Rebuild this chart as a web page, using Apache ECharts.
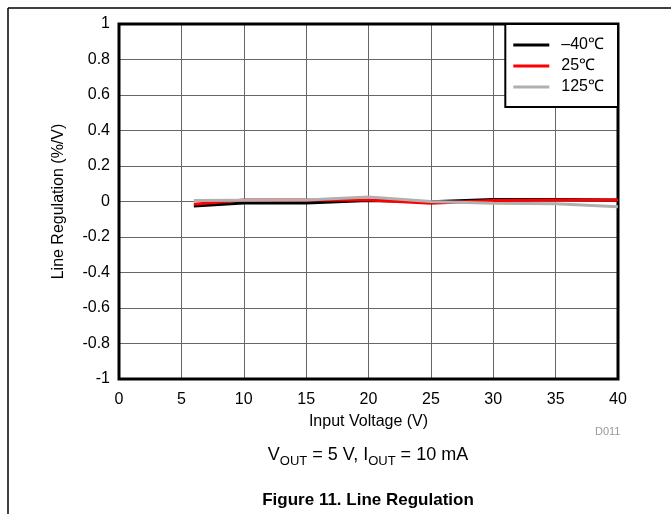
<!DOCTYPE html>
<html>
<head>
<meta charset="utf-8">
<script src="https://cdn.jsdelivr.net/npm/echarts@6/dist/echarts.min.js"></script>
<style>html,body{margin:0;padding:0;background:#fff;}#c{width:671px;height:514px;}</style>
</head>
<body>
<div id="c"></div>
<script>
var voltages = [6, 10, 15, 20, 25, 30, 35, 40];
var regM40 = [-0.025, -0.008, -0.008, 0.005, -0.002, 0.011, 0.011, 0.009];
var reg25 = [-0.015, 0.008, 0.008, 0.008, -0.010, 0.006, 0.008, 0.008];
var reg125 = [0.005, 0.007, 0.008, 0.025, 0.000, -0.010, -0.012, -0.030];
var seriesNames = ['\u201340\u2103', '25\u2103', '125\u2103'];
var seriesColors = ['#000000', '#ff0000', '#b0b0b0'];
var xTicks = [0, 5, 10, 15, 20, 25, 30, 35, 40];
var yTicks = [-1, -0.8, -0.6, -0.4, -0.2, 0, 0.2, 0.4, 0.6, 0.8, 1];

function pairs(ys) { return voltages.map(function (v, i) { return [v, ys[i]]; }); }
var allData = [regM40, reg25, reg125];

var chart = echarts.init(document.getElementById('c'), null, {renderer: 'canvas'});
var font = 'Arial, "Liberation Sans", sans-serif';
chart.setOption({
  animation: false,
  backgroundColor: '#ffffff',
  grid: {left: 119, right: 53, top: 24, bottom: 135, show: true, borderColor: '#000', borderWidth: 3, backgroundColor: 'transparent', z: 3},
  xAxis: {
    type: 'value', min: xTicks[0], max: xTicks[xTicks.length - 1], interval: 5,
    axisLine: {show: false}, axisTick: {show: false},
    axisLabel: {color: '#000', fontSize: 16, fontFamily: font, margin: 13},
    splitLine: {show: true, lineStyle: {color: '#666', width: 1}},
    name: 'Input Voltage (V)', nameLocation: 'middle', nameGap: 35,
    nameTextStyle: {color: '#000', fontSize: 16, fontFamily: font}
  },
  yAxis: {
    type: 'value', min: yTicks[0], max: yTicks[yTicks.length - 1], interval: 0.2,
    axisLine: {show: false}, axisTick: {show: false},
    axisLabel: {color: '#000', fontSize: 16, fontFamily: font, margin: 9,
      formatter: function (v) { return String(Math.round(v * 10) / 10); }},
    splitLine: {show: true, lineStyle: {color: '#666', width: 1}},
    name: 'Line Regulation (%/V)', nameLocation: 'middle', nameGap: 52,
    nameTextStyle: {color: '#000', fontSize: 16, fontFamily: font}
  },
  legend: {
    orient: 'vertical', right: 53, top: 24,
    backgroundColor: '#fff', borderColor: '#000', borderWidth: 2, borderRadius: 0,
    padding: [13, 14, 12, 8], itemGap: 5, itemWidth: 36, itemHeight: 3,
    icon: 'rect',
    textStyle: {color: '#000', fontSize: 16, fontFamily: font, padding: [0, 0, 0, 7]},
    data: seriesNames, z: 10
  },
  series: allData.map(function (d, i) {
    return {
      type: 'line', name: seriesNames[i], data: pairs(d), showSymbol: false, symbol: 'none',
      lineStyle: {color: seriesColors[i], width: 3}, itemStyle: {color: seriesColors[i]}, z: 2 + i
    };
  }),
  graphic: [
    {type: 'line', shape: {x1: 8, y1: 8, x2: 671, y2: 8}, style: {stroke: '#000', lineWidth: 1.5}},
    {type: 'line', shape: {x1: 8, y1: 8, x2: 8, y2: 514}, style: {stroke: '#000', lineWidth: 1.5}},
    {type: 'text', left: 595, top: 426, style: {text: 'D011', fill: '#999', font: '11px ' + font}},
    {type: 'text', x: 368, y: 455, style: {
      text: '{a|V}{s|OUT}{a| = 5 V, I}{s|OUT}{a| = 10 mA}', textAlign: 'center', textVerticalAlign: 'middle',
      rich: {
        a: {fontSize: 18, fontFamily: font, fill: '#000', color: '#000', verticalAlign: 'bottom', height: 22},
        s: {fontSize: 13, fontFamily: font, fill: '#000', color: '#000', verticalAlign: 'bottom', height: 22, padding: [0, 0, -6, 0]}
      }}},
    {type: 'text', x: 368, y: 500, style: {text: 'Figure 11. Line Regulation', textAlign: 'center', textVerticalAlign: 'middle', fill: '#000', font: 'bold 17px ' + font}}
  ]
});
</script>
</body>
</html>
